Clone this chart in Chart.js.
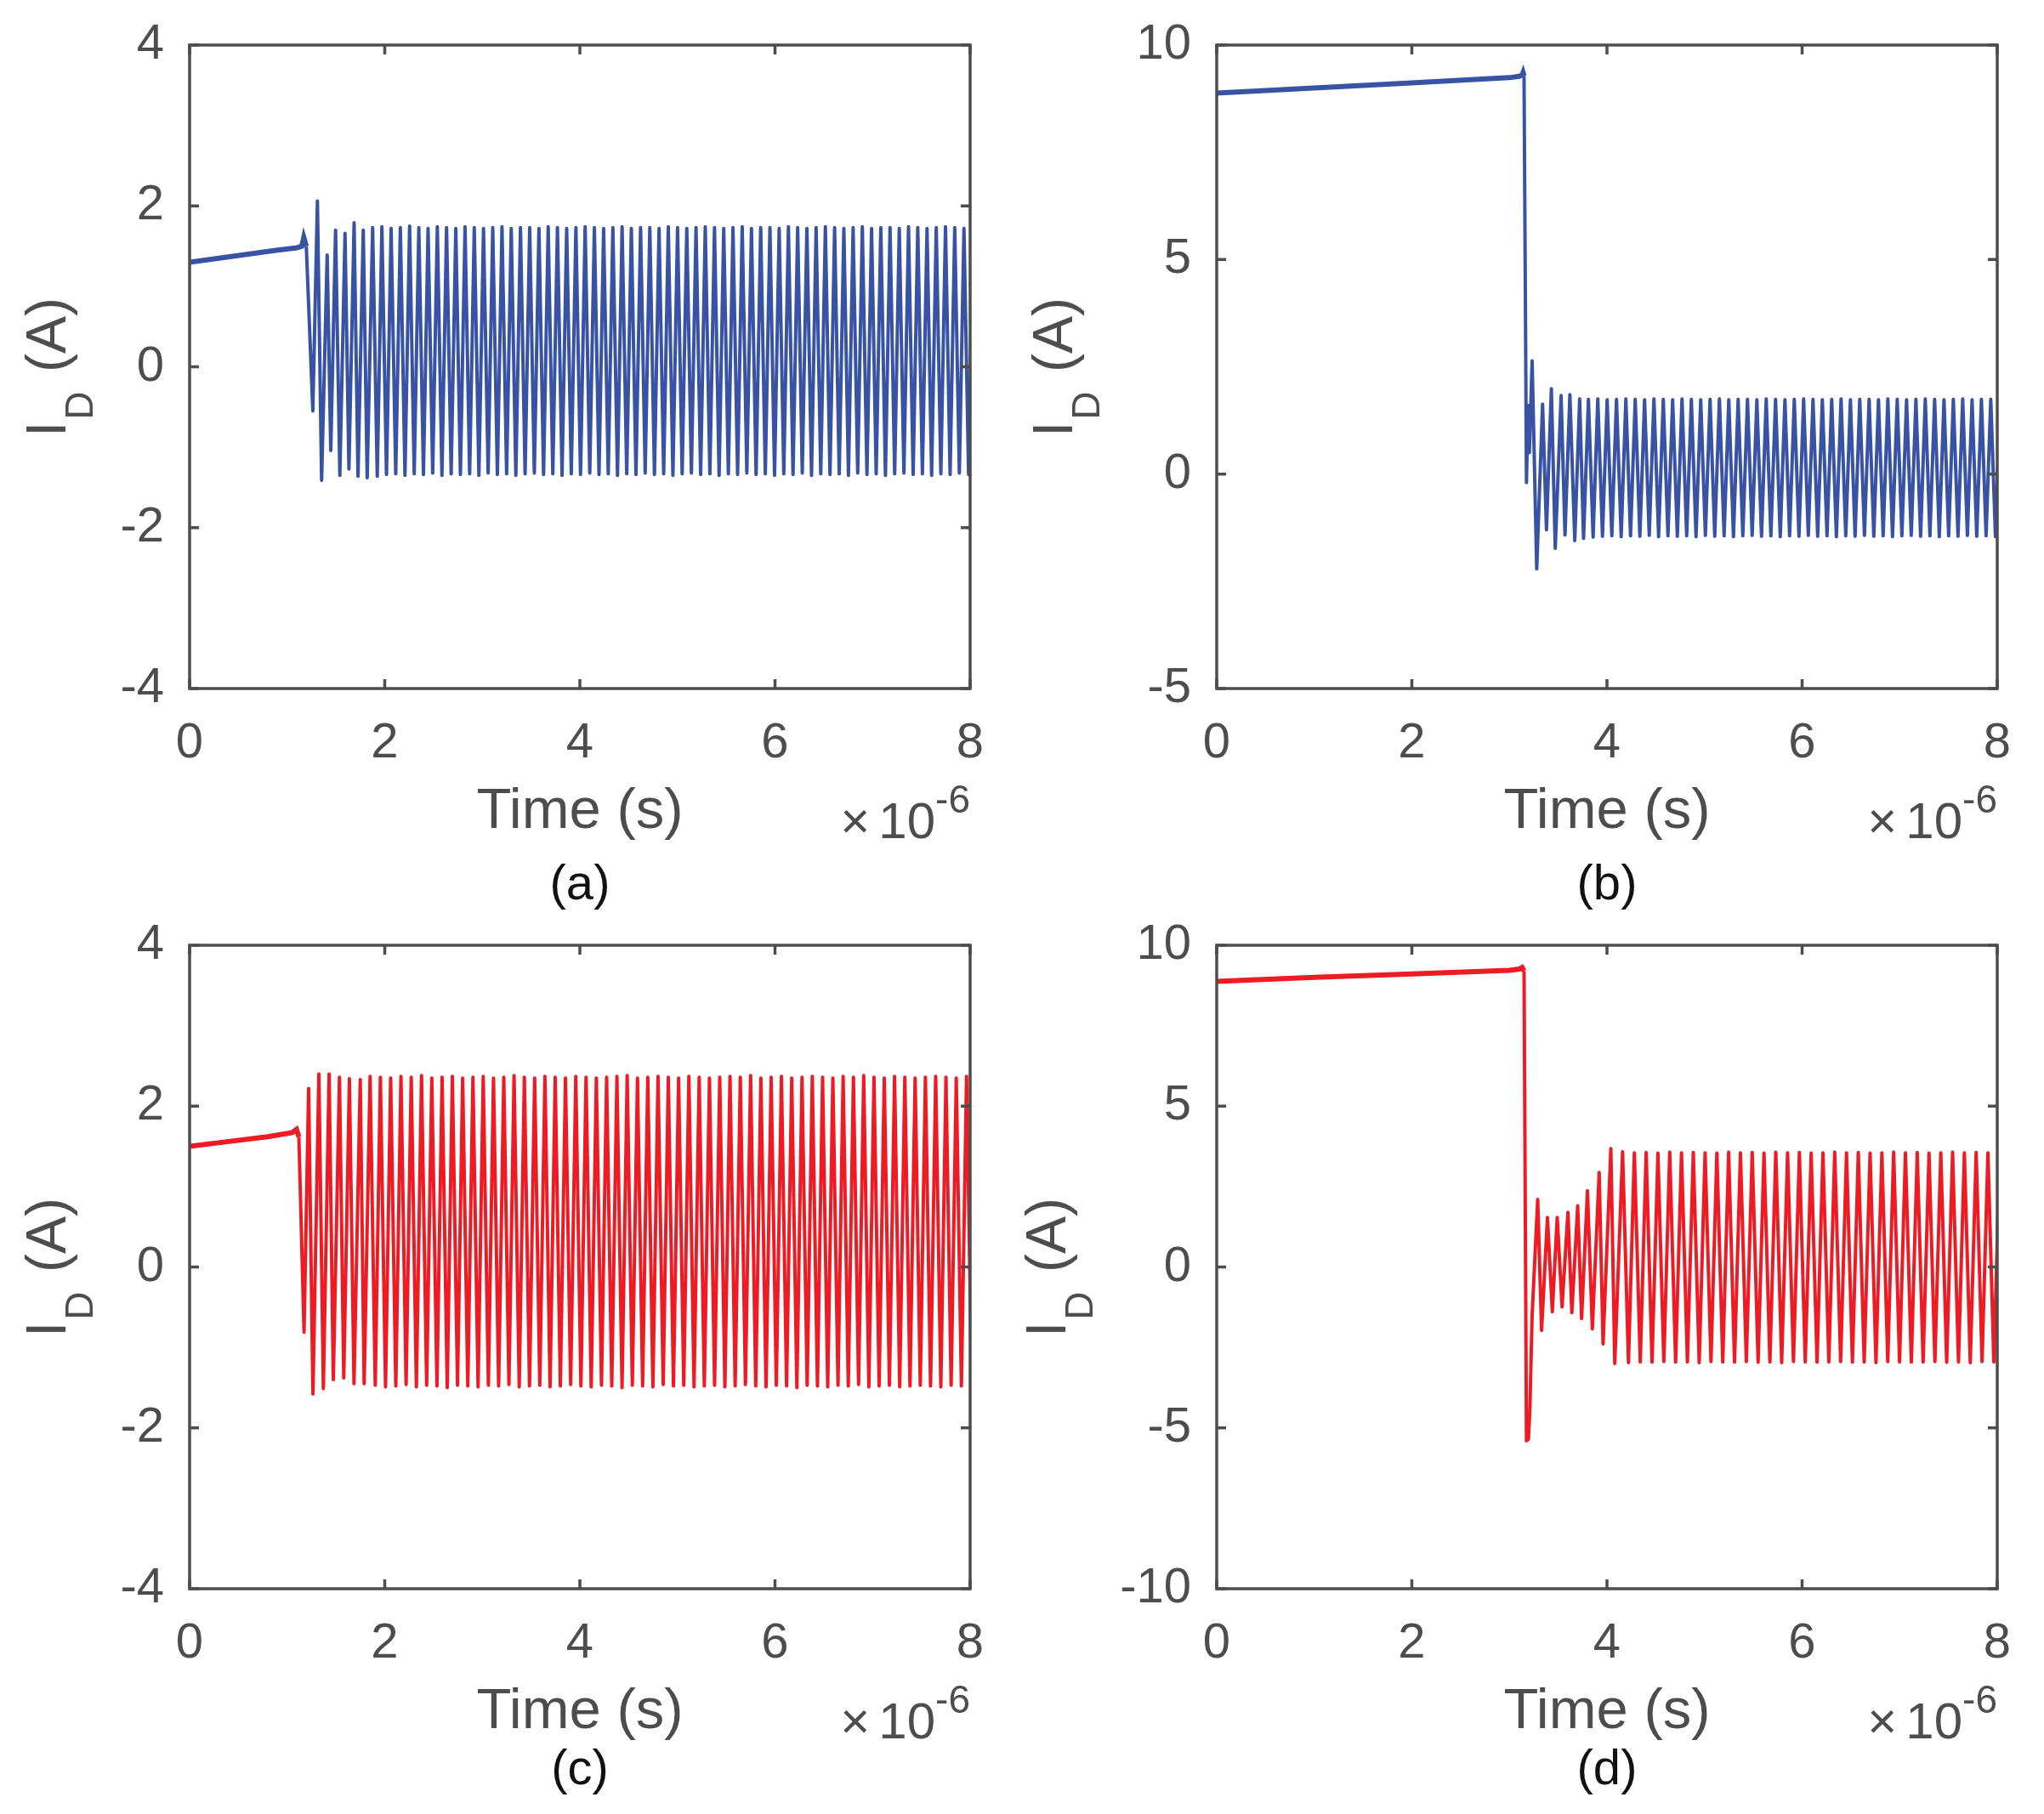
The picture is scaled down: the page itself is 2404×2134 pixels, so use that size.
<!DOCTYPE html>
<html>
<head>
<meta charset="utf-8">
<script src="https://cdn.jsdelivr.net/npm/chart.js@4.4.1/dist/chart.umd.min.js"></script>
<style>
  body { margin: 0; background: #fff; }
  #fig { position: relative; width: 2404px; height: 2134px; background: #fff; overflow: hidden;
         font-family: 'Liberation Sans', Arial, Helvetica, sans-serif; color: #4d4d4d; }
  canvas { position: absolute; }
  .ylab { position: absolute; font-size: 66px; line-height: 1; white-space: nowrap;
          transform: translate(-50%, -50%) rotate(-90deg); }
  .ylab .sub { font-size: 46px; position: relative; top: 32px; margin-left: 2px; margin-right: 4px; }
  .xlab { position: absolute; font-size: 67px; line-height: 1; white-space: nowrap; transform: translateX(-50%); }
  .exp { position: absolute; font-size: 60px; line-height: 1; white-space: nowrap; }
  .exp .times { margin-right: 10px; font-weight: 300; }
  .exp .sup { font-size: 46px; position: relative; top: -30px; }
  .tag { position: absolute; font-size: 58px; line-height: 1; color: #111; transform: translateX(-50%); }
</style>
</head>
<body>
<div id="fig"></div>
<script>
// time axis in units of 1e-6 s
const aRampT = [0, 0.3, 0.6, 0.9, 1.10, 1.15, 1.17, 1.196];
const aRampI = [1.30, 1.35, 1.40, 1.45, 1.48, 1.50, 1.61, 1.50];
const aTransT = [1.263, 1.31, 1.353, 1.41, 1.447, 1.496, 1.54, 1.593, 1.633, 1.686, 1.726, 1.78, 1.82];
const aTransI = [-0.55, 2.06, -1.41, 1.39, -1.04, 1.70, -1.35, 1.66, -1.27, 1.79, -1.36, 1.70, -1.38];
const aT0 = 1.876, aPeriod = 0.0947;
const aPeaks = [1.73, 1.74, 1.72, 1.73, 1.75, 1.73, 1.72, 1.74, 1.73, 1.72,
  1.74, 1.73, 1.72, 1.73, 1.74, 1.72, 1.73, 1.73, 1.72, 1.74,
  1.73, 1.72, 1.73, 1.74, 1.73, 1.72, 1.73, 1.74, 1.72, 1.73,
  1.73, 1.72, 1.74, 1.73, 1.72, 1.73, 1.74, 1.73, 1.72, 1.73,
  1.74, 1.72, 1.73, 1.73, 1.72, 1.74, 1.73, 1.72, 1.73, 1.74,
  1.73, 1.72, 1.73, 1.74, 1.72, 1.73, 1.73, 1.72, 1.74, 1.73,
  1.72, 1.73, 1.74, 1.73, 1.72, 1.73];
const aTroughs = [-1.36, -1.34, -1.33, -1.35, -1.33, -1.34, -1.32, -1.35, -1.33, -1.34,
  -1.33, -1.35, -1.32, -1.34, -1.33, -1.35, -1.33, -1.32, -1.34, -1.33,
  -1.35, -1.33, -1.34, -1.32, -1.34, -1.33, -1.35, -1.33, -1.34, -1.32,
  -1.34, -1.33, -1.35, -1.33, -1.32, -1.34, -1.33, -1.35, -1.33, -1.34,
  -1.32, -1.34, -1.33, -1.35, -1.33, -1.34, -1.32, -1.35, -1.33, -1.34,
  -1.33, -1.35, -1.32, -1.34, -1.33, -1.35, -1.33, -1.32, -1.34, -1.33,
  -1.35, -1.33, -1.34, -1.32, -1.34, -1.33];

const bRampT = [0, 1, 2, 3, 3.10, 3.13, 3.14, 3.15];
const bRampI = [8.88, 9.00, 9.12, 9.24, 9.27, 9.30, 9.36, 9.28];
const bTransT = [3.175, 3.19, 3.205, 3.233, 3.28, 3.34, 3.38, 3.43, 3.47, 3.53, 3.57, 3.62, 3.67, 3.72, 3.76];
const bTransI = [-0.20, 1.60, 0.50, 2.64, -2.21, 1.63, -1.30, 1.99, -1.73, 1.83, -1.42, 1.85, -1.55, 1.75, -1.50];
const bT0 = 3.81, bPeriod = 0.0959;
const bPeaks = [1.74, 1.75, 1.73, 1.74, 1.75, 1.74, 1.73, 1.75, 1.74, 1.73,
  1.75, 1.74, 1.73, 1.74, 1.75, 1.73, 1.74, 1.74, 1.73, 1.75,
  1.74, 1.73, 1.74, 1.75, 1.74, 1.73, 1.74, 1.75, 1.73, 1.74,
  1.74, 1.73, 1.75, 1.74, 1.73, 1.74, 1.75, 1.74, 1.73, 1.74,
  1.75, 1.73, 1.74, 1.74, 1.73];
const bTroughs = [-1.47, -1.45, -1.44, -1.46, -1.44, -1.45, -1.43, -1.46, -1.44, -1.45,
  -1.44, -1.46, -1.43, -1.45, -1.44, -1.46, -1.44, -1.43, -1.45, -1.44,
  -1.46, -1.44, -1.45, -1.43, -1.45, -1.44, -1.46, -1.44, -1.45, -1.43,
  -1.45, -1.44, -1.46, -1.44, -1.43, -1.45, -1.44, -1.46, -1.44, -1.45,
  -1.43, -1.45, -1.44, -1.46, -1.44];

const cRampT = [0, 0.4, 0.8, 1.05, 1.095, 1.12];
const cRampI = [1.50, 1.56, 1.62, 1.67, 1.71, 1.62];
const cTransT = [1.173, 1.22, 1.264, 1.325, 1.371, 1.43, 1.473, 1.536, 1.58, 1.638, 1.685, 1.749, 1.789];
const cTransI = [-0.81, 2.22, -1.58, 2.40, -1.51, 2.40, -1.40, 2.36, -1.38, 2.34, -1.45, 2.33, -1.45];
const cT0 = 1.85, cPeriod = 0.1054;
const cPeaks = [2.37, 2.36, 2.35, 2.37, 2.36, 2.38, 2.35, 2.36, 2.37, 2.35,
  2.36, 2.37, 2.35, 2.36, 2.38, 2.36, 2.35, 2.37, 2.36, 2.35,
  2.37, 2.36, 2.35, 2.36, 2.37, 2.38, 2.35, 2.36, 2.37, 2.36,
  2.35, 2.37, 2.36, 2.35, 2.36, 2.37, 2.36, 2.38, 2.35, 2.36,
  2.37, 2.35, 2.36, 2.37, 2.36, 2.35, 2.37, 2.36, 2.38, 2.36,
  2.35, 2.37, 2.36, 2.35, 2.36, 2.37, 2.36, 2.35, 2.37, 2.36];
const cTroughs = [-1.47, -1.49, -1.48, -1.46, -1.49, -1.47, -1.48, -1.50, -1.47, -1.48,
  -1.49, -1.47, -1.48, -1.46, -1.49, -1.48, -1.47, -1.49, -1.48, -1.46,
  -1.48, -1.49, -1.47, -1.48, -1.50, -1.47, -1.48, -1.49, -1.46, -1.48,
  -1.47, -1.49, -1.48, -1.47, -1.49, -1.48, -1.46, -1.48, -1.49, -1.47,
  -1.48, -1.50, -1.47, -1.48, -1.49, -1.47, -1.48, -1.46, -1.49, -1.48,
  -1.47, -1.49, -1.48, -1.47, -1.48, -1.49, -1.47, -1.48, -1.50, -1.47];

const dRampT = [0, 1, 2, 3, 3.10, 3.13, 3.15];
const dRampI = [8.88, 9.00, 9.11, 9.22, 9.26, 9.31, 9.20];
const dTransT = [3.175, 3.195, 3.21, 3.233, 3.29, 3.33, 3.39, 3.44, 3.49, 3.54, 3.60, 3.64, 3.70, 3.74, 3.80, 3.85, 3.92, 3.96, 4.04, 4.08];
const dTransI = [-5.40, -5.35, -4.40, -1.50, 2.10, -1.97, 1.54, -1.39, 1.54, -1.24, 1.70, -1.42, 1.90, -1.60, 2.37, -1.92, 2.94, -2.39, 3.68, -3.00];
const dT0 = 4.16, dPeriod = 0.1208;
const dPeaks = [3.58, 3.55, 3.56, 3.54, 3.57, 3.55, 3.56, 3.55, 3.54, 3.57,
  3.55, 3.56, 3.54, 3.57, 3.55, 3.56, 3.54, 3.55, 3.57, 3.55,
  3.56, 3.54, 3.55, 3.57, 3.55, 3.56, 3.54, 3.55, 3.57, 3.55,
  3.56, 3.55, 3.54];
const dTroughs = [-2.97, -2.95, -2.96, -2.94, -2.96, -2.95, -2.97, -2.94, -2.95, -2.96,
  -2.94, -2.96, -2.95, -2.97, -2.94, -2.95, -2.96, -2.95, -2.94, -2.96,
  -2.95, -2.97, -2.94, -2.95, -2.96, -2.95, -2.94, -2.96, -2.95, -2.97,
  -2.94, -2.95, -2.96];

const xTicks = [0, 2, 4, 6, 8];
const yRanges = [[-4, 4, 2], [-5, 10, 5], [-4, 4, 2], [-10, 10, 5]];
const tags = ['(a)', '(b)', '(c)', '(d)'];

const blue = '#3953a4';
const red = '#ed1c24';
const axisColor = '#4d4d4d';
const fontFamily = "'Liberation Sans', Arial, Helvetica, sans-serif";

// plot boxes in page pixels
const plotW = 918, plotH = 757;
const plotL = [223, 1431, 223, 1431];
const plotT = [53, 53, 1112, 1112];
const ylabOff = [169, 193, 169, 201];
const tagOff = [199, 199, 181, 181];
// room round the plot box; top/right big enough that chart.js keeps the box where it is
const padL = 200, padT = 80, padR = 60, padB = 120;

function rampPoints(ts, vs) {
  return ts.map((t, i) => ({ x: t, y: vs[i] }));
}

function oscPoints(rampT, rampI, transT, transI, t0, period, peaks, troughs) {
  const pts = [{ x: rampT[rampT.length - 1], y: rampI[rampI.length - 1] }];
  transT.forEach((t, i) => pts.push({ x: t, y: transI[i] }));
  peaks.forEach((p, i) => {
    pts.push({ x: t0 + i * period, y: p });
    pts.push({ x: t0 + i * period + period / 2, y: troughs[i] });
  });
  return pts;
}

const boxPlugin = {
  id: 'matlabBox',
  afterDatasetsDraw(chart) {
    const { ctx, chartArea: a, scales } = chart;
    const tl = 11;
    ctx.save();
    ctx.strokeStyle = axisColor;
    ctx.lineWidth = 3.5;
    ctx.lineCap = 'butt';
    ctx.beginPath();
    scales.x.ticks.forEach(t => {
      const px = scales.x.getPixelForValue(t.value);
      ctx.moveTo(px, a.bottom); ctx.lineTo(px, a.bottom - tl);
      ctx.moveTo(px, a.top); ctx.lineTo(px, a.top + tl);
    });
    scales.y.ticks.forEach(t => {
      const py = scales.y.getPixelForValue(t.value);
      ctx.moveTo(a.left, py); ctx.lineTo(a.left + tl, py);
      ctx.moveTo(a.right, py); ctx.lineTo(a.right - tl, py);
    });
    ctx.stroke();
    ctx.lineJoin = 'miter';
    ctx.strokeRect(a.left, a.top, a.right - a.left, a.bottom - a.top);
    ctx.restore();
  }
};

const panels = [
  { ramp: rampPoints(aRampT, aRampI), osc: oscPoints(aRampT, aRampI, aTransT, aTransI, aT0, aPeriod, aPeaks, aTroughs), color: blue },
  { ramp: rampPoints(bRampT, bRampI), osc: oscPoints(bRampT, bRampI, bTransT, bTransI, bT0, bPeriod, bPeaks, bTroughs), color: blue },
  { ramp: rampPoints(cRampT, cRampI), osc: oscPoints(cRampT, cRampI, cTransT, cTransI, cT0, cPeriod, cPeaks, cTroughs), color: red },
  { ramp: rampPoints(dRampT, dRampI), osc: oscPoints(dRampT, dRampI, dTransT, dTransI, dT0, dPeriod, dPeaks, dTroughs), color: red }
];

const fig = document.getElementById('fig');

panels.forEach((p, k) => {
  const L = plotL[k], T = plotT[k], R = L + plotW, B = T + plotH;
  const canvas = document.createElement('canvas');
  canvas.width = padL + plotW + padR;
  canvas.height = padT + plotH + padB;
  canvas.style.left = (L - padL) + 'px';
  canvas.style.top = (T - padT) + 'px';
  fig.appendChild(canvas);

  const [ymin, ymax, ystep] = yRanges[k];
  new Chart(canvas.getContext('2d'), {
    type: 'line',
    data: {
      datasets: [
        { data: p.ramp, borderColor: p.color, borderWidth: 6, pointRadius: 0, tension: 0, borderJoinStyle: 'miter' },
        { data: p.osc, borderColor: p.color, borderWidth: 4, pointRadius: 0, tension: 0, borderJoinStyle: 'round' }
      ]
    },
    options: {
      responsive: false,
      animation: false,
      parsing: false,
      events: [],
      layout: { padding: { left: 0, top: padT, right: padR, bottom: 0 } },
      plugins: { legend: { display: false }, tooltip: { enabled: false } },
      scales: {
        x: {
          type: 'linear', min: 0, max: 8,
          afterBuildTicks: s => { s.ticks = xTicks.map(v => ({ value: v })); },
          afterFit: s => { s.height = padB; },
          grid: { display: false, drawTicks: false },
          border: { display: false },
          ticks: { padding: 30, maxRotation: 0, color: axisColor, font: { family: fontFamily, size: 58 } }
        },
        y: {
          type: 'linear', min: ymin, max: ymax,
          ticks: { stepSize: ystep, padding: 30, color: axisColor, font: { family: fontFamily, size: 58 } },
          afterFit: s => { s.width = padL; },
          grid: { display: false, drawTicks: false },
          border: { display: false }
        }
      }
    },
    plugins: [boxPlugin]
  });

  const yl = document.createElement('div');
  yl.className = 'ylab';
  yl.style.left = (L - ylabOff[k]) + 'px';
  yl.style.top = ((T + B) / 2) + 'px';
  yl.innerHTML = 'I<span class="sub">D</span> (A)';
  fig.appendChild(yl);

  const xl = document.createElement('div');
  xl.className = 'xlab';
  xl.style.left = ((L + R) / 2) + 'px';
  xl.style.top = (B + 107) + 'px';
  xl.textContent = 'Time (s)';
  fig.appendChild(xl);

  const ex = document.createElement('div');
  ex.className = 'exp';
  ex.style.right = (2404 - R) + 'px';
  ex.style.top = (B + 126) + 'px';
  ex.innerHTML = '<span class="times">\u00d7</span>10<span class="sup">-6</span>';
  fig.appendChild(ex);

  const tg = document.createElement('div');
  tg.className = 'tag';
  tg.style.left = ((L + R) / 2) + 'px';
  tg.style.top = (B + tagOff[k]) + 'px';
  tg.textContent = tags[k];
  fig.appendChild(tg);
});
</script>
</body>
</html>
